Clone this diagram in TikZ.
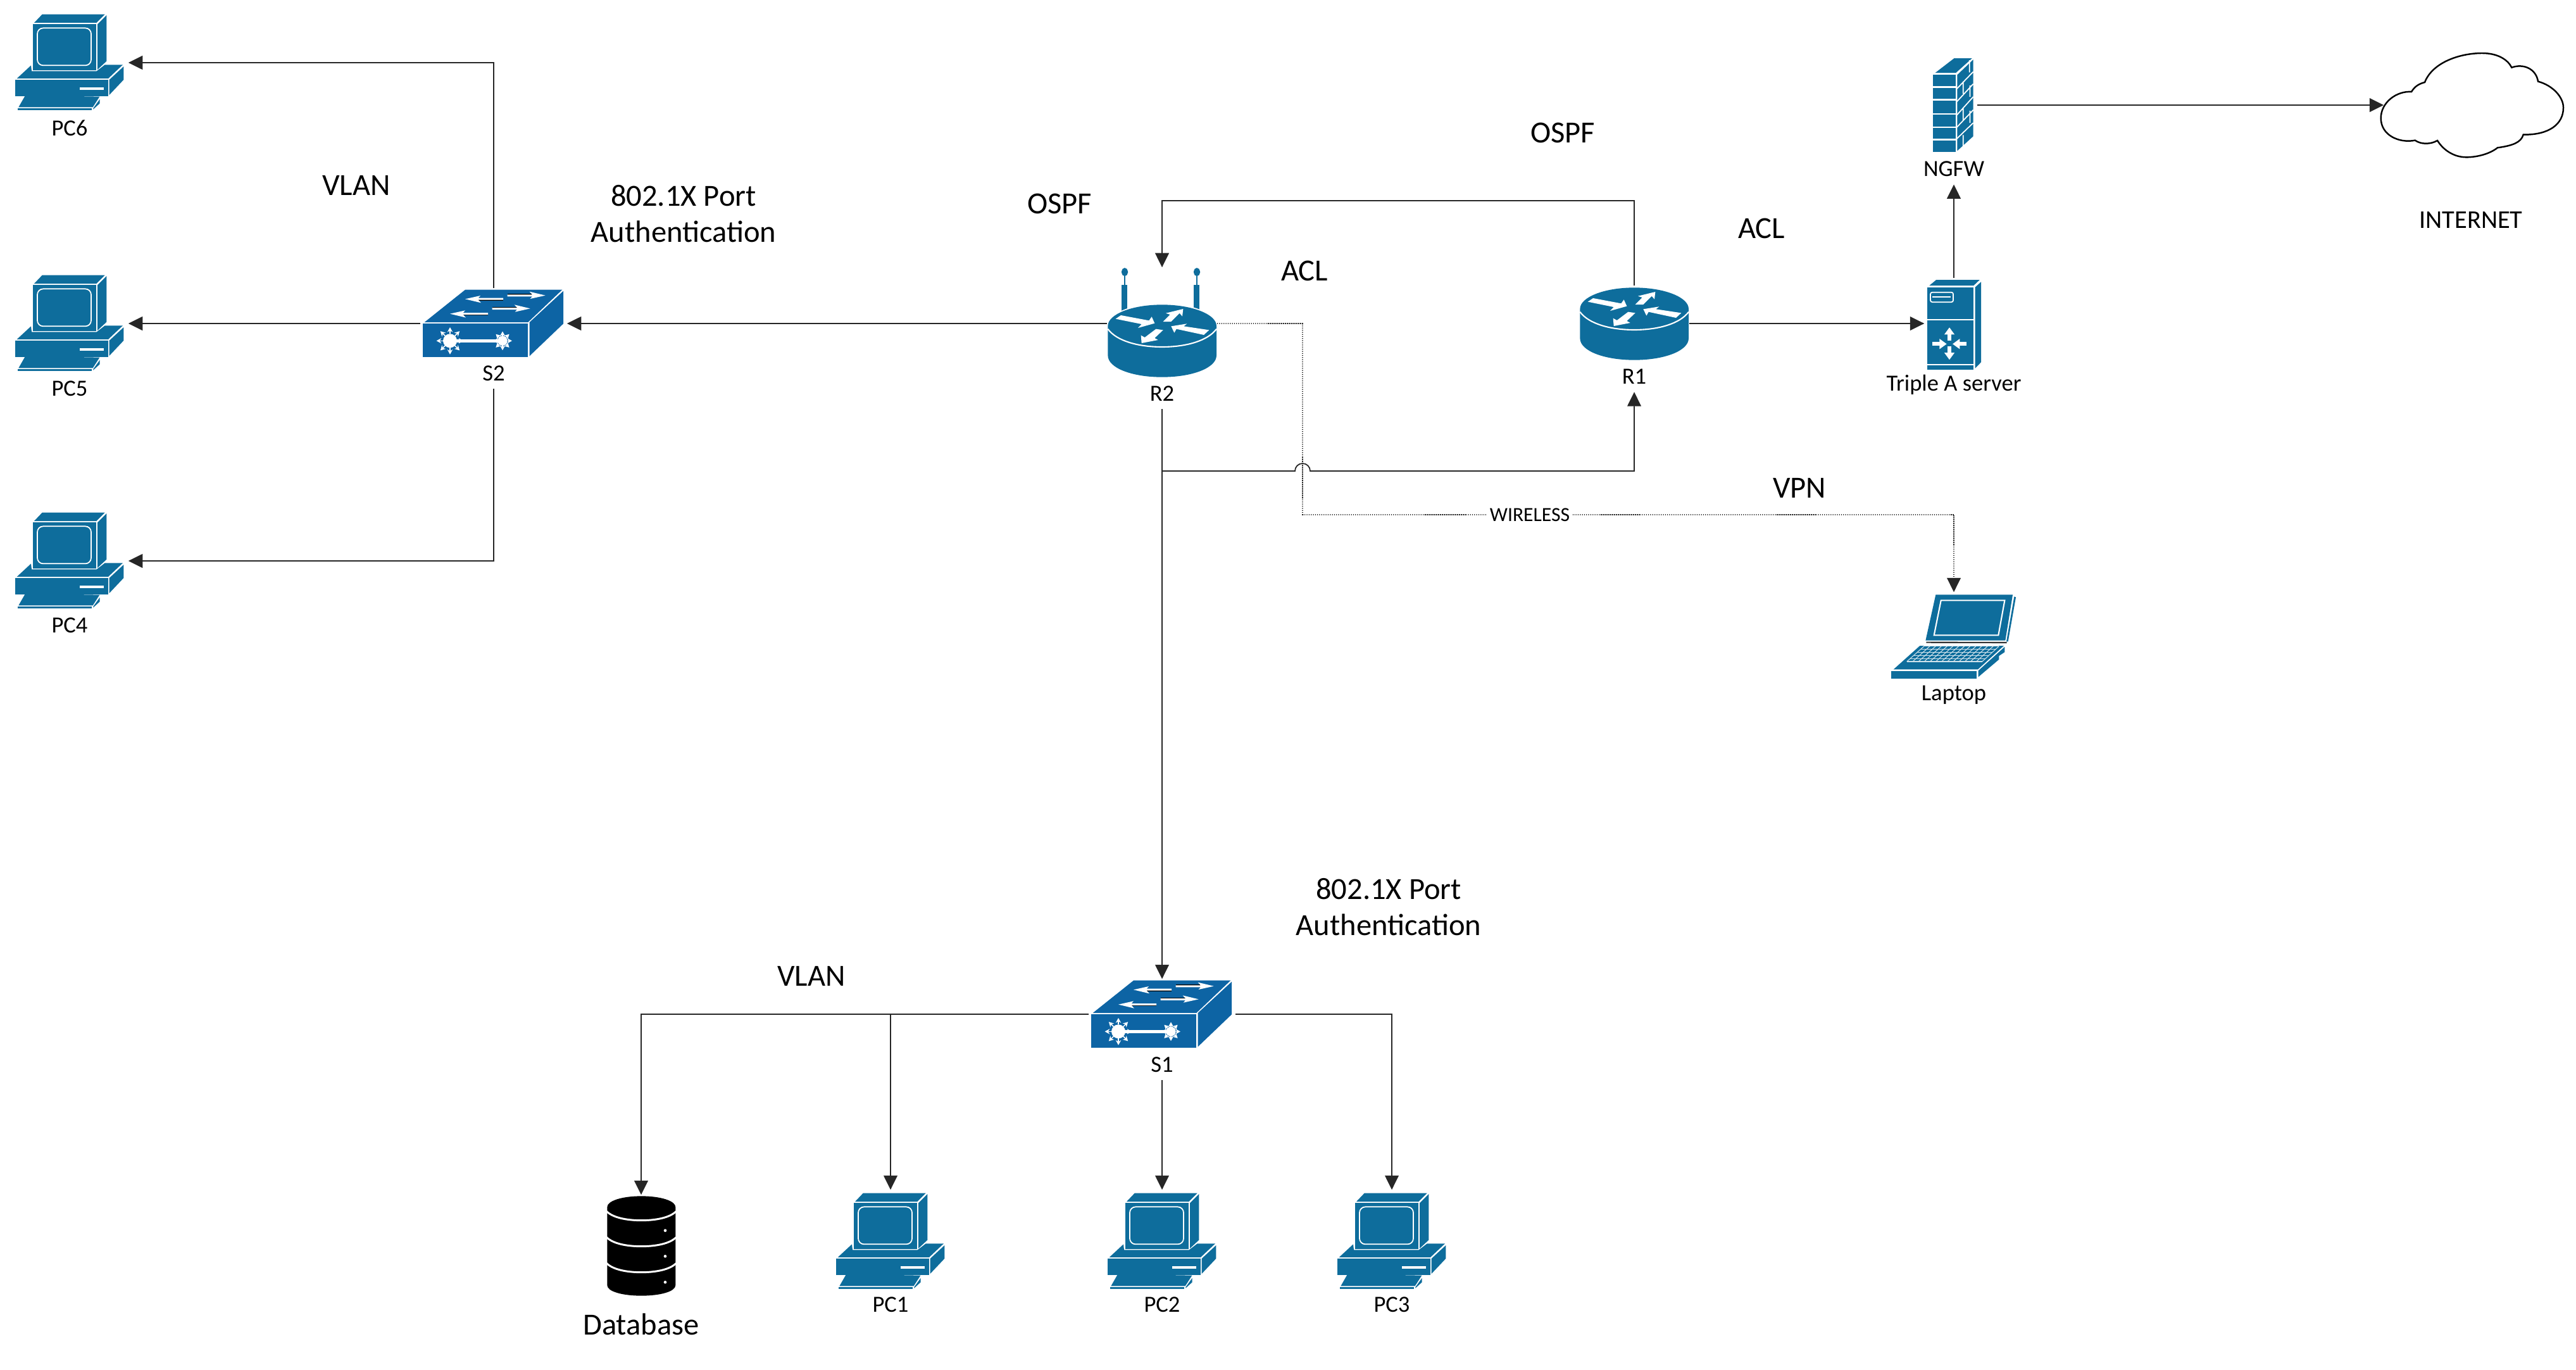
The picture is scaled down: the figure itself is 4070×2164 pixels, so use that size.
\documentclass[tikz,border=0pt]{standalone}
\usepackage{fontspec}
\setmainfont{Carlito}
\usetikzlibrary{positioning, shapes.geometric, arrows.meta}
\definecolor{icoblue}{HTML}{0E6D9C}

\begin{document}
\begin{tikzpicture} [x=0.01cm, y=-0.01cm, >={Triangle[length=6.4pt, width=6.2pt]},
  link/.style={line width=0.5pt, color=black!85},
  hostbox/.style={minimum width=1.84cm, minimum height=1.62cm, inner sep=0},
  swbox/.style={minimum width=2.30cm, minimum height=1.10cm, inner sep=0},
  tag/.style={font=\fontsize{10.4pt}{12pt}\selectfont},
  bigtag/.style={font=\fontsize{13.8pt}{16.2pt}\selectfont, align=center},
  wirelabel/.style={font=\fontsize{9pt}{10pt}\selectfont, fill=white, inner sep=1.5pt},
  pcicon/.pic={
    \begin{scope}[scale=1/3, shift={(-330,-297)}]
      \fill[icoblue] (162,108) -- (200,68) -- (497,68) -- (457,108) -- cycle;
      \fill[icoblue] (462,115) -- (505,72) -- (505,290) -- (462,330) -- cycle;
      \fill[icoblue] (155,115) rectangle (455,332);
      \draw[white, line width=0.5pt, rounded corners=2.6pt] (177,133) rectangle (432,310);
      \fill[icoblue] (80,372) -- (147,310) -- (150,337) -- (458,337) -- (497,307) -- (582,307) -- (513,372) -- cycle;
      \fill[icoblue] (73,379) rectangle (512,455);
      \fill[icoblue] (518,378) -- (586,315) -- (586,378) -- (518,450) -- cycle;
      \fill[white] (378,413) rectangle (491,425);
      \fill[icoblue] (120,452) -- (472,458) -- (440,508) -- (88,508) -- cycle;
      \fill[icoblue] (83,513) rectangle (436,523);
      \fill[icoblue] (442,513) -- (473,470) -- (473,490) -- (442,518) -- cycle;
    \end{scope}
  },
  swarrow/.pic={
    \fill[black] (0,-8) rectangle (118,-2);
    \fill[white] (0,-4) -- (118,-4) -- (105,-18) -- (180,0) -- (108,16) -- (118,5) -- (0,5) -- cycle;
  },
  hubstar/.pic={
    \fill[white] (0,0) circle (#1);
    \foreach \a in {0,45,...,315}
      \draw[white, line width=0.45pt, -{Stealth[length=2.2pt, width=2.4pt]}] (\a:#1) -- (\a:#1*1.95);
  },
  switchicon/.pic={
    \begin{scope}[scale=1/3, shift={(-450,-276)}]
      \fill[icoblue!92!blue] (122,270) -- (315,116) -- (775,116) -- (613,270) -- cycle;
      \fill[icoblue!92!blue] (115,277) rectangle (612,435);
      \fill[icoblue!92!blue] (620,270) -- (780,122) -- (780,277) -- (620,430) -- cycle;
      \pic[transform shape, rotate=180] at (495,160) {swarrow};
      \pic[transform shape, rotate=180] at (423,230) {swarrow};
      \pic[transform shape] at (515,143) {swarrow};
      \pic[transform shape] at (443,205) {swarrow};
      \fill[white] (243,351) rectangle (492,365);
      \pic[transform shape] at (243,358) {hubstar=33};
      \pic[transform shape] at (492,358) {hubstar=23};
    \end{scope}
  },
  routericon/.pic={
    \begin{scope}[scale=1/3, shift={(-407,-406)}]
      \fill[white] (143,406) .. controls (143,350) and (260,298) .. (407,298) .. controls (554,298) and (671,350) .. (671,406) -- cycle;
      \fill[icoblue] (150,406) .. controls (150,350) and (265,305) .. (407,305) .. controls (549,305) and (665,350) .. (665,406)
        -- (665,545) .. controls (665,605) and (549,648) .. (407,648) .. controls (265,648) and (150,605) .. (150,545) -- cycle;
      \draw[white, line width=0.6pt] (150,420) .. controls (190,475) and (290,505) .. (407,505) .. controls (524,505) and (624,475) .. (665,420);
      \fill[white] (187,372) -- (212,355) -- (345,380) -- (358,362) -- (372,393) -- (293,415) -- (310,397) -- cycle;
      \fill[white] (412,385) -- (445,352) -- (425,345) -- (507,325) -- (503,360) -- (490,345) -- (450,385) -- cycle;
      \fill[white] (630,425) -- (605,448) -- (475,420) -- (465,438) -- (450,407) -- (525,395) -- (510,407) -- cycle;
      \fill[white] (378,420) -- (412,425) -- (372,463) -- (388,472) -- (310,487) -- (307,450) -- (325,460) -- cycle;
    \end{scope}
  },
  antennaicon/.pic={
    \begin{scope}[scale=1/3, shift={(-407,-406)}]
      \fill[icoblue] (215,212) rectangle (243,340);
      \fill[icoblue] (226,165) rectangle (232,212);
      \fill[icoblue, rounded corners=1.6pt] (215,130) rectangle (245,170);
      \fill[icoblue] (557,212) rectangle (585,340);
      \fill[icoblue] (568,165) rectangle (574,212);
      \fill[icoblue, rounded corners=1.6pt] (557,130) rectangle (587,170);
    \end{scope}
  },
  wallicon/.pic={
    \begin{scope}[xscale=1/3, yscale=1/2.6, shift={(-411,-302)}]
      \fill[icoblue] (322,170) -- (412,110) -- (497,110) -- (420,170) -- cycle;
      \fill[icoblue] (313,178) rectangle (420,225);
      \fill[icoblue] (313,232) rectangle (420,277);
      \fill[icoblue] (313,285) rectangle (420,335);
      \fill[icoblue] (313,340) rectangle (420,390);
      \fill[icoblue] (313,396) rectangle (420,440);
      \fill[icoblue] (313,447) rectangle (420,495);
      \fill[icoblue] (427,178) -- (503,115) -- (503,430) -- (427,490) -- cycle;
      \draw[white, line width=0.5pt] (425,235) -- (503,165) (425,288) -- (503,215) (425,343) -- (503,268)
        (425,393) -- (503,322) (425,440) -- (503,375) (485,118) -- (485,168) (455,205) -- (455,255)
        (487,222) -- (487,268) (455,315) -- (455,365) (487,325) -- (487,375) (455,425) -- (455,470);
    \end{scope}
  },
  servericon/.pic={
    \begin{scope}[xscale=1/3, yscale=1/2.6, shift={(-411,-1201)}]
      \fill[icoblue] (295,1045) -- (327,1022) -- (533,1022) -- (505,1045) -- cycle;
      \fill[icoblue] (512,1052) -- (540,1030) -- (540,1360) -- (512,1385) -- cycle;
      \fill[icoblue] (285,1052) rectangle (505,1390);
      \draw[white, line width=0.5pt] (285,1185) -- (505,1185) (285,1370) -- (505,1370);
      \draw[white, line width=0.5pt, rounded corners=0.8pt] (300,1073) rectangle (408,1113);
      \draw[white, line width=0.5pt] (310,1092) -- (397,1092);
      \draw[white, line width=1.7pt, -{Triangle[length=3.2pt, width=4.4pt]}] (390,1270) -- (390,1217);
      \draw[white, line width=1.7pt, -{Triangle[length=3.2pt, width=4.4pt]}] (390,1295) -- (390,1350);
      \draw[white, line width=1.7pt, -{Triangle[length=3.2pt, width=4.4pt]}] (310,1285) -- (377,1285);
      \draw[white, line width=1.7pt, -{Triangle[length=3.2pt, width=4.4pt]}] (470,1285) -- (405,1285);
    \end{scope}
  },
  laptopicon/.pic={
    \begin{scope}[scale=1/3, shift={(-411,-315)}]
      \fill[icoblue] (325,118) -- (690,118) -- (655,335) -- (277,335) -- cycle;
      \fill[icoblue] (697,127) -- (705,130) -- (668,340) -- (660,340) -- cycle;
      \draw[white, line width=0.6pt] (350,145) -- (652,145) -- (622,310) -- (317,310) -- cycle;
      \draw[black!80, line width=0.6pt] (280,344) -- (662,345);
      \fill[icoblue] (125,472) -- (250,360) -- (648,360) -- (525,472) -- cycle;
      \foreach \k in {0,...,5}
        \draw[white!80!icoblue, line width=0.3pt] ({270-82*\k/5},{362+73*\k/5}) -- ({625-80*\k/5},{362+73*\k/5});
      \foreach \k in {0,...,13}
        \draw[white!80!icoblue, line width=0.3pt] ({270+355*\k/13},362) -- ({188+357*\k/13},435);
      \fill[icoblue] (113,480) rectangle (520,515);
      \fill[icoblue] (527,478) -- (652,365) -- (652,390) -- (625,408) -- (625,425) -- (527,508) -- cycle;
    \end{scope}
  },
  storeicon/.pic={
    \begin{scope}[scale=1/3, shift={(-339,-354)}]
      \fill[black] (178,170) .. controls (178,140) and (250,118) .. (340,118) .. controls (430,118) and (502,140) .. (502,170)
        -- (502,540) .. controls (502,570) and (430,590) .. (340,590) .. controls (250,590) and (178,570) .. (178,540) -- cycle;
      \draw[white, line width=0.85pt] (175,190) .. controls (205,220) and (270,233) .. (340,233) .. controls (410,233) and (475,220) .. (505,190);
      \draw[white, line width=0.85pt] (175,313) .. controls (205,343) and (270,356) .. (340,356) .. controls (410,356) and (475,343) .. (505,313);
      \draw[white, line width=0.85pt] (175,436) .. controls (205,466) and (270,479) .. (340,479) .. controls (410,479) and (475,466) .. (505,436);
      \fill[white] (453,281) circle (7);
      \fill[white] (453,403) circle (7);
      \fill[white] (453,526) circle (7);
    \end{scope}
  },
  cloudicon/.pic={
    \begin{scope}[scale=1/3, shift={(-618,-348)}]
      \draw[black, line width=0.7pt, line join=miter] (330,285) .. controls (345,260) and (365,247) .. (393,240)
        .. controls (430,145) and (560,102) .. (665,102) .. controls (735,102) and (785,130) .. (805,170)
        .. controls (860,150) and (920,175) .. (930,236) .. controls (1000,255) and (1050,310) .. (1050,360)
        .. controls (1050,440) and (980,490) .. (860,488) .. controls (850,525) and (810,540) .. (738,550)
        .. controls (700,580) and (640,595) .. (590,595) .. controls (530,595) and (480,560) .. (453,516)
        .. controls (420,535) and (375,535) .. (347,515) .. controls (270,530) and (185,490) .. (185,410)
        .. controls (185,335) and (260,280) .. (330,285) -- cycle;
    \end{scope}
  }]
  \useasboundingbox (0,0) rectangle (4070,2164);

  % left hosts
  \draw (110,99) node[hostbox](pc6) {} pic {pcicon};
  \draw (110,511) node[hostbox](pc5) {} pic {pcicon};
  \draw (110,886) node[hostbox](pc4) {} pic {pcicon};
  \draw (110,202) node[tag](pc6lab) {PC6};
  \draw (110,614) node[tag](pc5lab) {PC5};
  \draw (110,988) node[tag](pc4lab) {PC4};

  % switches and routers
  \draw (780,511) node[swbox](s2) {} pic {switchicon};
  \draw (780,590) node[tag](s2lab) {S2};
  \draw (1836,1602) node[swbox](s1) {} pic {switchicon};
  \draw (1836,1682) node[tag](s1lab) {S1};
  \draw (1836,515) pic {antennaicon} pic {routericon};
  \draw (1836,511) node[minimum width=1.72cm, minimum height=1.76cm, inner sep=0](r2) {};
  \draw (1836,622) node[tag](r2lab) {R2};
  \draw (2582,488) pic {routericon};
  \draw (2582,511) node[minimum width=1.72cm, minimum height=1.18cm, inner sep=0](r1) {};
  \draw (2582,595) node[tag](r1lab) {R1};

  % right side
  \draw (3087,511) node[minimum width=0.92cm, minimum height=1.42cm, inner sep=0](aaa) {} pic {servericon};
  \draw (3087,608) node[tag](aaalab) {Triple A server};
  \draw (3087,166) node[minimum width=0.72cm, minimum height=1.48cm, inner sep=0](ngfw) {} pic {wallicon};
  \draw (3087,267) node[tag](ngfwlab) {NGFW};
  \draw (3906,166) node[minimum width=2.78cm, minimum height=1.66cm, inner sep=0](inet) {} pic {cloudicon};
  \draw (3904,348) node[tag, font=\fontsize{11.5pt}{13pt}\selectfont](inetlab) {INTERNET};
  \draw (3087,1005) node[minimum width=1.97cm, minimum height=1.38cm, inner sep=0](laptop) {} pic {laptopicon};
  \draw (3087,1098) node[tag](laptoplab) {Laptop};

  % bottom hosts
  \draw (1013,1968) node[minimum width=1.09cm, minimum height=1.60cm, inner sep=0](db) {} pic {storeicon};
  \draw (1013,2092) node[tag, font=\fontsize{13.8pt}{15pt}\selectfont](dblab) {Database};
  \draw (1407,1961) node[hostbox](pc1) {} pic {pcicon};
  \draw (1836,1961) node[hostbox](pc2) {} pic {pcicon};
  \draw (2199,1961) node[hostbox](pc3) {} pic {pcicon};
  \draw (1407,2061) node[tag](pc1lab) {PC1};
  \draw (1836,2061) node[tag](pc2lab) {PC2};
  \draw (2199,2061) node[tag](pc3lab) {PC3};

  \coordinate (ospfturn) at (1836,317);
  \coordinate (tee) at (1836,744);
  \coordinate (hopa) at (2046,744);
  \coordinate (hopb) at (2070,744);
  \coordinate (wlturn) at (2058,813);

  \draw[link, ->] (s2) |- (pc6);
  \draw[link, ->] (s2) -- (pc5);
  \draw[link, ->] (s2lab) |- (pc4);
  \draw[link, ->] (r2) -- (s2);
  \draw[link, ->] (r2lab) -- (s1);
  \draw[link, ->] (r1) |- (ospfturn) -- (r2);
  \draw[link, ->] (tee) -- (hopa) arc (180:360:12) -- (hopb) -| (r1lab);
  \draw[link, ->] (r1) -- (aaa);
  \draw[link, ->] (aaa) -- (ngfwlab);
  \draw[link, ->] (ngfw) -- (inet);
  \draw[link, line width=0.45pt, dash pattern=on 0.35pt off 0.5pt, ->] (r2) -| (wlturn) -| (laptop);
  \draw[link, ->] (s1) -| (db);
  \draw[link, ->] (s1) -| (pc1);
  \draw[link, ->] (s1lab) -- (pc2);
  \draw[link, ->] (s1) -| (pc3);

  \draw (2417,813) node[wirelabel](wless) {WIRELESS};

  \draw (563,293) node[bigtag](vlanb) {VLAN};
  \draw (1080,338) node[bigtag](dotb) {802.1X Port\\Authentication};
  \draw (1674,322) node[bigtag](ospfb) {OSPF};
  \draw (2061,428) node[bigtag](aclb) {ACL};
  \draw (2469,210) node[bigtag](ospfa) {OSPF};
  \draw (2783,361) node[bigtag](acla) {ACL};
  \draw (2843,771) node[bigtag](vpn) {VPN};
  \draw (2194,1433) node[bigtag](dota) {802.1X Port\\Authentication};
  \draw (1282,1542) node[bigtag](vlana) {VLAN};
\end{tikzpicture}
\end{document}
